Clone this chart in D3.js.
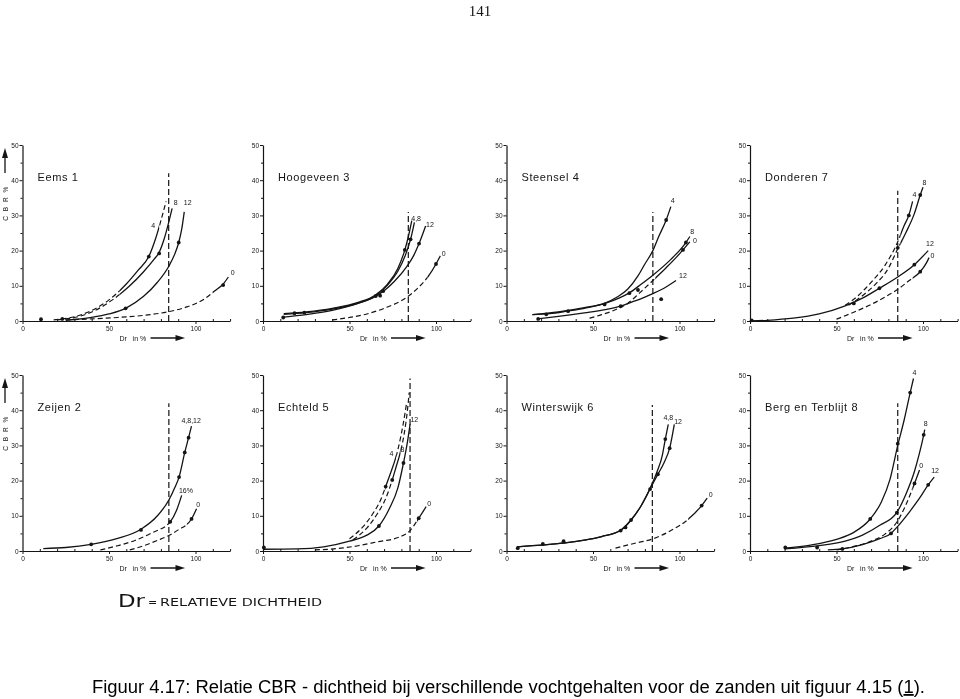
<!DOCTYPE html>
<html><head><meta charset="utf-8">
<script src="https://cdn.jsdelivr.net/npm/d3@7"></script>
<style>body{margin:0;background:#fff} svg{display:block;filter:grayscale(1)}</style>
</head><body><svg id="c" width="960" height="699"></svg>
<script>
// ---------- DATA ----------
const panelNames = ["Eems 1","Hoogeveen 3","Steensel 4","Donderen 7","Zeijen 2","Echteld 5","Winterswijk 6","Berg en Terblijt 8"];
const yTicks = [0,10,20,30,40,50];
const yMinor = [5,15,25,35,45];
const xTicks = [0,50,100];
const xMinor = [10,20,30,40,60,70,80,90,110,120];
const refDr  = [84.5, 84, 84.6, 85.4, 84.6, 85, 84.3, 85.4];
const refTop = [42, 31, 31, 37, 42, 49, 41.5, 42];

const curvesEems = [
  {label:"4", lab:[75.5,27], solid:[[56,79]], pts:[[18,0.3],[30,1.2],[40,3],[50,6],[60,10.5],[67,14.5],[73,18.3],[77,23.5],[80,28.5],[83,34]]},
  {label:"8", lab:[88.5,33.5], solid:[[56,87]], pts:[[20,0.3],[32,1.2],[42,3],[52,6],[62,10],[70,14],[76,17.5],[79,19.5],[82,23.5],[85,29],[86.5,32]]},
  {label:"12", lab:[95.5,33.5], pts:[[25,0.2],[40,1],[50,2],[59.6,3.6],[70,7],[78,11],[84.5,15.5],[88,19],[90.3,22.3],[92,26],[93.5,31]]},
  {label:"0", lab:[121.5,13.5], solid:[[110,130]], pts:[[25,0.3],[40,0.6],[55,1],[70,1.6],[85,2.7],[95,4],[105,6.2],[111,8.5],[116,10.5],[119,12.5]]}
];
const dotsEems = [[10.7,0.5],[23,0.6],[59.6,3.6],[73,18.3],[79,19.2],[90.3,22.3],[116,10.2]];

const curvesHoog = [
  {label:"4,8", lab:[88.5,28.8], pts:[[12,2.1],[25,2.6],[40,3.6],[55,5.3],[65,7.4],[72,10.5],[78,15],[82,20.2],[84.5,25],[86,28.5]]},
  {label:"", pts:[[12,1.9],[25,2.4],[40,3.4],[55,5.1],[65,7.1],[72,10.2],[78,14.2],[82,18.3],[85.3,23.2],[87.5,28]]},
  {label:"12", lab:[96.5,27.3], pts:[[12,1.1],[25,1.8],[40,3],[55,5],[65,7],[70,8.6],[76,11.3],[83,15.4],[87,18.5],[90.2,22],[94,27]]},
  {label:"0", lab:[104.5,19], solid:[[95,130]], pts:[[40,0.3],[50,1],[60,2],[70,3.6],[83,6.7],[90,9.6],[96,13],[100,16.2],[102.5,18.5]]}
];
const dotsHoog = [[11.7,1],[18.2,2.2],[23.9,2.4],[65.2,7.1],[67.7,7.2],[69.5,8.5],[82,20.2],[85.3,23.2],[90.2,22],[100,16.2]];

const curvesSteen = [
  {label:"4", lab:[96,34], pts:[[15,1.8],[30,2.6],[45,3.8],[57,5.1],[64,6.8],[70,9],[76,12.8],[80,16.2],[84.6,20],[88,24],[92.3,28.7],[95,32.5]]},
  {label:"8", lab:[107.3,25.3], pts:[[15,1.8],[25,2.1],[35,2.8],[45,3.6],[57,5],[65,6.5],[71,8],[78,10.5],[84.6,13],[95,17.5],[103.7,22.3],[106,24]]},
  {label:"12", lab:[102,12.8], pts:[[18,0.6],[30,1.3],[45,2.3],[58,3.3],[66,4.2],[72,5.3],[80,6.8],[84.6,7.8],[92,9.6],[98,11.5]]},
  {label:"0", lab:[109,22.8], solid:[[86,130]], pts:[[48,0.8],[55,1.8],[62,3],[70,5],[77,8],[84.6,11.5],[92,15],[98,18],[102,20.2],[106,22.5]]}
];
const dotsSteen = [[18.3,0.6],[23,1.9],[35.6,2.8],[56.7,4.7],[66,4.2],[71,7.9],[76,8.8],[89.4,6.2],[92.3,28.7],[102,20.2],[103.7,22.3]];

const curvesDond = [
  {label:"4", lab:[95,35.8], solid:[[87,130]], pts:[[55,4.5],[62,7],[70,11],[78,15.8],[85.4,22.5],[89,27],[91.8,30],[94,34]]},
  {label:"8", lab:[100.8,39.3], solid:[[87,130]], pts:[[57,4.5],[65,7.2],[72,10.2],[80,15],[85.4,20.5],[90,25],[95,30.5],[98.4,35.8],[100,38]]},
  {label:"12", lab:[104,21.8], pts:[[0,0],[10,0.2],[25,0.8],[40,2],[55,4.3],[65,6.5],[74.8,9.3],[85.4,12.5],[95,16],[103,20]]},
  {label:"0", lab:[105.5,18.3], solid:[[94,130]], pts:[[50,0.5],[60,2.5],[70,4.7],[78,6.8],[85.4,9],[92,11.5],[98.4,14],[102,16.5],[103.5,18]]}
];
const dotsDond = [[1,0.2],[60,5],[74.8,9.3],[85.4,20.8],[91.8,30],[95,16],[98.4,35.8],[98.4,14]];

const curvesZeij = [
  {label:"4,8,12", lab:[97.5,37], pts:[[12,0.7],[25,1],[39.7,1.9],[55,3.6],[68.5,6.2],[78,10],[84.6,14.5],[88,18],[90.5,21],[93.8,28],[96,32.2],[97.7,35.5]]},
  {label:"16%", lab:[94.5,17], solid:[[85,130]], pts:[[45,0.3],[55,1.5],[65,3],[75,5.2],[85.4,8.3],[89,11.5],[92,15.8]]},
  {label:"0", lab:[101.5,13], solid:[[95,130]], pts:[[62,0.3],[70,1.5],[78,3],[84.6,4.4],[90,6],[97.7,9.1],[100.6,12]]}
];
const dotsZeij = [[39.7,1.9],[68.5,6],[85.4,8.3],[90.5,21],[93.8,28],[96,32.2],[97.7,9.1]];

const curvesEcht = [
  {label:"4", lab:[74.3,27.6], solid:[[70.5,77]], pts:[[50,3.5],[58,7],[64,11],[68,14.5],[70.9,18.3],[74,22.5],[76.6,26.3],[79,31],[81,36],[83,42]]},
  {label:"8", lab:[80.6,28.6], solid:[[74.5,79.5]], pts:[[52,3.2],[60,6.5],[66,10.5],[71,15],[74.7,20.2],[77,24],[79,27.3],[81.5,33],[83.5,40],[84.5,45]]},
  {label:"12", lab:[87.5,37.2], pts:[[0,0.5],[20,0.6],[35,1.2],[50,2.8],[60,4.5],[67,7.1],[73,12],[78,18],[81.2,25],[83.5,31],[85,36]]},
  {label:"0", lab:[96,13.4], solid:[[89,130]], pts:[[30,0.3],[45,0.8],[55,1.5],[65,2.5],[79,4],[85,5.8],[90,9.3],[94.3,12.6]]}
];
const dotsEcht = [[0.5,1],[67,7.1],[70.9,18.3],[74.7,20.2],[81.2,25],[90,9.3]];

const curvesWint = [
  {label:"4,8", lab:[93.5,37.6], pts:[[6,1.2],[15,1.5],[25,1.9],[35,2.4],[45,3.1],[55,4.1],[66,5.9],[72,8.8],[78,13],[83,17.8],[87,22.5],[90,27],[91.8,31.8],[93.5,36]]},
  {label:"12", lab:[99.2,36.6], pts:[[6,1.2],[15,1.5],[25,1.9],[35,2.4],[45,3.1],[55,4.1],[66,5.9],[72,8.8],[78,13],[83,17.6],[87.5,21.8],[91,25],[94.3,29.2],[97,36]]},
  {label:"0", lab:[118,15.8], solid:[[105,130]], pts:[[63,0.8],[75,2.3],[84.3,3.4],[95,5.8],[105,9],[112.8,12.9],[116,15]]}
];
const dotsWint = [[6.5,0.8],[21,2],[33,2.8],[66,5.8],[68.8,6.7],[72,8.8],[83,17.6],[87.5,21.8],[91.8,31.8],[94.3,29.2],[112.8,12.9]];

const curvesBerg = [
  {label:"4", lab:[95,50.5], pts:[[20,0.8],[35,1.7],[50,3.3],[60,5.3],[69.5,9.1],[76,14],[81,20.5],[85.4,30],[89,37],[92.6,45],[94.5,49]]},
  {label:"8", lab:[101.5,36], pts:[[20,0.6],[40,1.5],[55,2.8],[65,4.5],[75,7.3],[84.9,11],[90,16],[95,22.5],[97.8,27.5],[100.4,33],[101,34.5]]},
  {label:"0", lab:[99,24.2], solid:[[94,130]], pts:[[50,0.3],[60,1.3],[70,2.8],[78,4.8],[85,8.3],[90,13],[95.1,19.2],[98,23]]},
  {label:"12", lab:[107,22.6], pts:[[45,0.3],[53.4,0.6],[65,1.8],[75,3.5],[81.5,5],[85,6.8],[92,11],[98,15],[103,18.8],[106.5,21]]}
];
const dotsBerg = [[20.4,1],[38.8,1],[53.4,0.6],[69.5,9.1],[81.5,5],[84.9,10.9],[85.4,30.5],[92.6,45],[95.1,19.2],[100.4,33],[103,18.8]];

const panelCurves = [curvesEems, curvesHoog, curvesSteen, curvesDond, curvesZeij, curvesEcht, curvesWint, curvesBerg];
const panelDots = [dotsEems, dotsHoog, dotsSteen, dotsDond, dotsZeij, dotsEcht, dotsWint, dotsBerg];

// ---------- DRAW ----------
const svg = d3.select("#c");
const ink = "#141414";
const colX = [22.5, 263, 506.5, 750];
const rowY0 = [321, 551];
const kx = 1.73, ky = 3.52;
const defs = svg.append("defs");

svg.append("text").attr("x",480).attr("y",16).attr("text-anchor","middle")
  .attr("font-family","Liberation Serif, Times New Roman, serif").attr("font-size",15).attr("fill",ink).text("141");

panelNames.forEach((name,i)=>{
  const col=i%4, row=Math.floor(i/4);
  const x = d3.scaleLinear().domain([0,120]).range([colX[col], colX[col]+120*kx]);
  const y = d3.scaleLinear().domain([0,50]).range([rowY0[row], rowY0[row]-50*ky]);
  const g = svg.append("g");

  // y axis
  g.append("g").attr("transform",`translate(${x(0)},0)`)
    .call(d3.axisLeft(y).tickValues(yTicks).tickSize(3).tickSizeOuter(0).tickPadding(1));
  g.append("g").attr("transform",`translate(${x(0)},0)`)
    .call(d3.axisLeft(y).tickValues(yMinor).tickSize(2).tickFormat(""))
    .select(".domain").remove();
  // x axis
  g.append("g").attr("transform",`translate(0,${y(0)})`)
    .call(d3.axisBottom(x).tickValues(xTicks).tickSize(3).tickSizeOuter(0).tickPadding(2));
  g.append("g").attr("transform",`translate(0,${y(0)})`)
    .call(d3.axisBottom(x).tickValues(xMinor).tickSize(-2).tickFormat(""))
    .select(".domain").remove();
  g.selectAll(".domain").attr("stroke",ink).attr("stroke-width",1.2);
  g.selectAll(".tick line").attr("stroke",ink).attr("stroke-width",1);
  g.selectAll(".tick text").attr("font-size",6.5).attr("font-family","Liberation Sans, Arial, sans-serif").attr("fill",ink);

  // title
  g.append("text").attr("x",x(0)+15).attr("y",y(41)+4)
    .attr("font-family","Liberation Sans, Arial, sans-serif").attr("font-size",11)
    .attr("letter-spacing",0.6).attr("fill",ink).text(name);

  // x label with arrow
  const ly = y(0)+17;
  g.append("text").attr("x",x(56)).attr("y",ly+2.5)
    .attr("font-family","Liberation Sans, Arial, sans-serif").attr("font-size",7)
    .attr("fill",ink).attr("xml:space","preserve").text("Dr   in %");
  g.append("line").attr("x1",x(74)).attr("x2",x(89)).attr("y1",ly).attr("y2",ly)
    .attr("stroke",ink).attr("stroke-width",1.5);
  g.append("path").attr("d",`M${x(89)-1},${ly-3}L${x(94)},${ly}L${x(89)-1},${ly+3}Z`).attr("fill",ink);

  // CBR label (first column)
  if(col===0){
    const top = y(50);
    g.append("path").attr("d",`M5,${top+3}L8,${top+13}L2,${top+13}Z`).attr("fill",ink);
    g.append("line").attr("x1",5).attr("x2",5).attr("y1",top+13).attr("y2",top+28).attr("stroke",ink).attr("stroke-width",1.3);
    g.append("text").attr("transform",`translate(8,${top+58}) rotate(-90)`).attr("text-anchor","middle")
      .attr("font-family","Liberation Sans, Arial, sans-serif").attr("font-size",6.5).attr("letter-spacing",1.5)
      .attr("fill",ink).text("C B R %");
  }

  // reference dashed vertical line
  g.append("line").attr("x1",x(refDr[i])).attr("x2",x(refDr[i])).attr("y1",y(0)).attr("y2",y(refTop[i]))
    .attr("stroke",ink).attr("stroke-width",1.2).attr("stroke-dasharray","6,3");

  // curves
  const line = d3.line().x(d=>x(d[0])).y(d=>y(d[1])).curve(d3.curveMonotoneX);
  panelCurves[i].forEach((c,j)=>{
    const id = `p${i}c${j}`;
    const solid = c.solid || [[-10,200]];
    const cs = defs.append("clipPath").attr("id",id+"s");
    solid.forEach(r=>cs.append("rect").attr("x",x(r[0])).attr("y",0)
      .attr("width",Math.max(0,x(r[1])-x(r[0]))).attr("height",699));
    const cd = defs.append("clipPath").attr("id",id+"d");
    let prev=-10;
    solid.forEach(r=>{ cd.append("rect").attr("x",x(prev)).attr("y",0)
      .attr("width",Math.max(0,x(r[0])-x(prev))).attr("height",699); prev=r[1]; });
    cd.append("rect").attr("x",x(prev)).attr("y",0).attr("width",Math.max(0,x(200)-x(prev))).attr("height",699);
    g.append("path").attr("d",line(c.pts)).attr("fill","none").attr("stroke",ink)
      .attr("stroke-width",1.3).attr("clip-path",`url(#${id}s)`);
    g.append("path").attr("d",line(c.pts)).attr("fill","none").attr("stroke",ink)
      .attr("stroke-width",1.2).attr("stroke-dasharray","5,3").attr("clip-path",`url(#${id}d)`);
    if(c.label && c.lab){
      g.append("text").attr("x",x(c.lab[0])).attr("y",y(c.lab[1])).attr("text-anchor","middle")
        .attr("dominant-baseline","middle").attr("font-family","Liberation Sans, Arial, sans-serif")
        .attr("font-size",7).attr("fill",ink).text(c.label);
    }
  });

  // data points
  g.selectAll("circle.pt").data(panelDots[i]).enter().append("circle")
    .attr("cx",d=>x(d[0])).attr("cy",d=>y(d[1])).attr("r",1.9).attr("fill",ink);
});

// legend note
const note = svg.append("g").attr("fill",ink).attr("font-family","DejaVu Sans, sans-serif");
note.append("text").attr("x",118).attr("y",607).attr("font-size",18).attr("textLength",27)
  .attr("lengthAdjust","spacingAndGlyphs").text("Dr");
note.append("text").attr("x",148).attr("y",606).attr("font-size",11).text("=");
note.append("text").attr("x",160).attr("y",606).attr("font-size",10.5)
  .attr("textLength",162).attr("lengthAdjust","spacingAndGlyphs").text("RELATIEVE DICHTHEID");

// caption
const cap = svg.append("text").attr("x",92).attr("y",693).attr("font-family","Liberation Sans, Arial, sans-serif")
  .attr("font-size",18).attr("fill","#000").attr("textLength",833).attr("lengthAdjust","spacingAndGlyphs");
cap.append("tspan").text("Figuur 4.17: Relatie CBR - dichtheid bij verschillende vochtgehalten voor de zanden uit figuur 4.15 (");
cap.append("tspan").attr("text-decoration","underline").text("1");
cap.append("tspan").text(").");
</script></body></html>
